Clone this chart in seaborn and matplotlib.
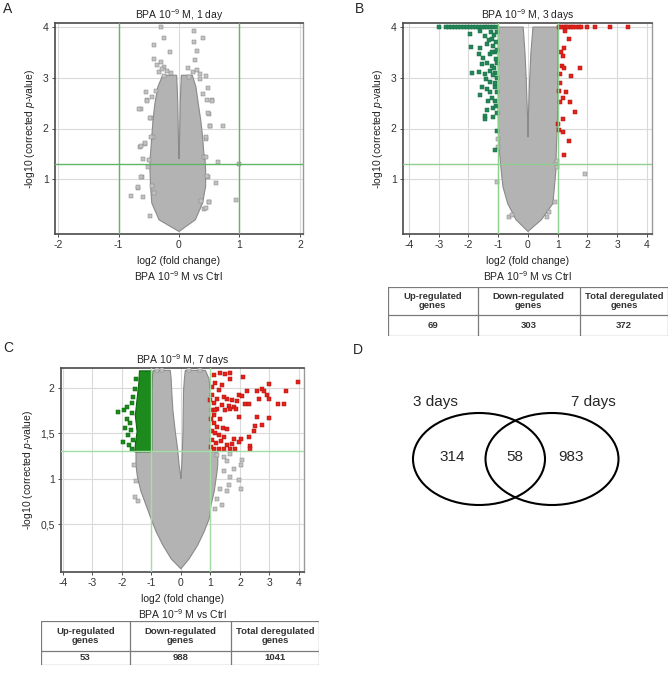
"""
Volcano plots of BPA 10-9 M exposure (1, 3, 7 days), deregulated gene tables and Venn diagram.
"""

import numpy as np
import matplotlib
matplotlib.use("Agg")
import matplotlib.pyplot as plt
from matplotlib.patches import Ellipse
import seaborn as sns

W, H = 670, 674

# ---- data ----
# panel A (1 day): dense cloud envelope + scattered genes
a_cloud_y = [-0.03, 0.2, 0.53, 0.86, 1.18, 1.4, 1.51, 1.84, 2.16, 2.48, 2.82, 3.05]
a_cloud_outer_l = [0, -0.33, -0.45, -0.47, -0.48, -0.48, -0.47, -0.45, -0.43, -0.40, -0.35, -0.27]
a_cloud_inner_l = [0, 0, 0, 0, 0, 0, -0.005, -0.01, -0.015, -0.02, -0.03, -0.04]
a_cloud_inner_r = [0, 0, 0, 0, 0, 0, 0.005, 0.01, 0.015, 0.02, 0.03, 0.04]
a_cloud_outer_r = [0, 0.27, 0.39, 0.44, 0.44, 0.43, 0.41, 0.39, 0.36, 0.32, 0.28, 0.22]
a_grey_x = [-0.30, 0.24, -0.25, 0.40, 0.25, -0.41, 0.29, -0.15, -0.41, -0.29, 0.27, -0.37,
            -0.25, -0.13, -0.24, 0.23, 0.34, 0.44, 0.17, -0.54, -0.53, -0.63, -0.38, 0.48,
            0.54, 0.39, 0.47, -0.46, -0.65, -0.57, -0.43, 0.49, 0.52, 0.73, 0.45, 0.41,
            0.64, 1.0, -0.50, -0.61, -0.67, -0.79, -0.60, 0.48, 0.61, 0.94, 0.49, 0.41,
            -0.45, -0.66, -0.53, -0.48, -0.63, -0.56, -0.47, -0.59, -0.51, -0.63, -0.67,
            -0.42, -0.45, -0.48, 0.55, 0.48, 0.51, 0.44, 0.44, 0.47, 0.36, 0.44, 0.49,
            -0.33, -0.28, 0.30, 0.35, -0.20, 0.15]
a_grey_y = [4.0, 3.92, 3.78, 3.78, 3.71, 3.64, 3.53, 3.50, 3.38, 3.31, 3.36, 3.25,
            3.21, 3.09, 3.03, 3.11, 2.98, 3.03, 3.02, 2.72, 2.56, 2.39, 2.74, 2.79,
            2.56, 2.69, 2.56, 2.20, 1.64, 1.70, 1.83, 2.29, 2.04, 2.05, 1.80, 1.44,
            1.34, 1.30, 1.37, 1.05, 0.83, 0.67, 0.65, 1.05, 0.93, 0.60, 0.55, 0.42,
            2.62, 2.39, 2.54, 2.20, 1.65, 1.71, 1.84, 1.39, 1.25, 1.05, 0.84,
            0.73, 0.86, 0.27, 2.54, 2.31, 2.05, 1.84, 1.44, 1.07, 0.58, 0.43, 0.56,
            3.12, 3.18, 3.15, 3.08, 3.14, 3.19]

# panel B (3 days)
b_cloud_y = [-0.03, 0.2, 0.52, 0.85, 1.18, 1.5, 1.83, 2.16, 2.5, 3.0, 3.5, 4.0]
b_cloud_outer_l = [0, -0.4, -0.68, -0.84, -0.9, -0.95, -0.99, -1.0, -1.0, -1.0, -1.0, -1.0]
b_cloud_inner_l = [0, 0, 0, 0, 0, 0, 0, -0.01, -0.03, -0.06, -0.1, -0.16]
b_cloud_inner_r = [0, 0, 0, 0, 0, 0, 0, 0.01, 0.03, 0.06, 0.1, 0.17]
b_cloud_outer_r = [0, 0.45, 0.84, 0.89, 0.94, 0.95, 0.97, 0.99, 1.0, 1.0, 1.0, 1.0]
b_grey_x = [-1.04, -0.65, 1.93, 0.98, 0.93, -1.02, -0.99, 0.64, 0.92, 0.97, -0.55, 0.72]
b_grey_y = [0.95, 0.26, 1.11, 1.24, 1.32, 1.80, 1.63, 0.26, 0.56, 1.35, 0.3, 0.35]
b_down_x = [-2.98, -2.76, -2.66, -2.56, -2.46, -2.36, -2.26, -2.16, -2.06, -1.96, -1.86,
            -1.76, -1.66, -1.56, -1.46, -1.36, -1.26, -1.16, -1.06,
            -1.94, -1.60, -1.44, -1.91, -1.60, -1.38, -1.21, -1.16, -1.64, -1.52, -1.29,
            -1.10, -1.55, -1.36, -1.21, -1.04, -1.89, -1.64, -1.44, -1.27, -1.12, -1.40,
            -1.27, -1.55, -1.36, -1.10, -1.60, -1.27, -1.04, -1.33, -1.12, -1.36, -1.16,
            -1.46, -1.44, -1.16, -1.04, -1.12,
            -1.05, -1.15, -1.25, -1.08, -1.30, -1.05, -1.20, -1.08, -1.15, -1.05, -1.18,
            -1.10, -1.20, -1.07, -1.05]
b_down_y = [4.0] * 19 + [
            3.87, 3.92, 3.82, 3.61, 3.59, 3.66, 3.76, 3.63, 3.46, 3.39, 3.46,
            3.50, 3.27, 3.30, 3.24, 3.30, 3.10, 3.12, 3.07, 3.14, 3.10, 2.97,
            2.91, 2.81, 2.78, 2.81, 2.67, 2.71, 2.71, 2.54, 2.55, 2.37, 2.41,
            2.25, 2.19, 2.22, 1.96, 1.57,
            3.90, 3.85, 3.90, 3.70, 3.75, 3.55, 3.50, 3.38, 3.20, 3.00, 3.05,
            2.90, 2.60, 2.45, 2.30]
b_up_x = [1.05, 1.12, 1.20, 1.28, 1.36, 1.44, 1.52, 1.60, 1.70, 1.80, 2.0, 2.26, 2.77, 3.38,
          1.26, 1.37, 1.20, 1.11, 1.18, 1.14, 1.20, 1.74, 1.07, 1.46, 1.07, 1.03, 1.28,
          1.17, 1.09, 1.40, 1.59, 1.18, 1.01, 1.06, 1.18, 1.37, 1.20]
b_up_y = [4.0] * 14 + [
          3.92, 3.76, 3.59, 3.50, 3.43, 3.24, 3.20, 3.20, 3.07, 3.03, 2.89, 2.73, 2.71,
          2.61, 2.53, 2.53, 2.33, 2.19, 2.09, 1.98, 1.93, 1.76, 1.47]

# panel C (7 days)
c_cloud_y = [0.01, 0.12, 0.27, 0.42, 0.56, 0.71, 0.86, 1.0, 1.04, 1.15, 1.29, 1.3,
             1.52, 1.75, 1.96, 2.1, 2.19]
c_cloud_outer_l = [0, -0.33, -0.61, -0.84, -1.01, -1.18, -1.35, -1.46, -1.48, -1.52, -1.52,
                   -1.0, -1.0, -1.0, -1.0, -0.97, -0.93]
c_cloud_inner_l = [0, 0, 0, 0, 0, 0, 0, 0, -0.01, -0.06, -0.1, -0.1,
                   -0.19, -0.27, -0.31, -0.33, -0.36]
c_cloud_inner_r = [0, 0, 0, 0, 0, 0, 0, 0, 0.01, 0.03, 0.05, 0.05,
                   0.07, 0.08, 0.09, 0.12, 0.15]
c_cloud_outer_r = [0, 0.28, 0.57, 0.79, 0.96, 1.02, 1.13, 1.19, 1.21, 1.25, 1.25,
                   1.0, 1.0, 1.0, 1.0, 0.95, 0.83]
c_down_block_y = [1.3, 1.41, 1.52, 1.7, 1.88, 2.06, 2.19]
c_down_block_l = [-1.58, -1.55, -1.5, -1.56, -1.5, -1.44, -1.42]
c_grey_x = [1.23, 1.45, 1.68, 1.57, 2.08, 2.02, 1.80, 1.45, 1.68, 1.97, 1.63, 1.34,
            2.02, 1.57, 1.23, 1.40, 1.17, -1.59, -1.53, -1.56, -1.44, 0.26, 0.66, -0.8, -0.65]
c_grey_y = [1.26, 1.24, 1.27, 1.19, 1.21, 1.15, 1.11, 1.08, 1.02, 0.99, 0.93, 0.89,
            0.89, 0.86, 0.78, 0.71, 0.67, 1.15, 0.97, 0.80, 0.75, 2.19, 2.19, 2.19, 2.19]
c_down_x = [-2.13, -1.92, -1.84, -1.81, -1.90, -1.73, -1.78, -1.95, -1.75, -1.67,
            -1.61, -1.53, -1.56, -1.64, -1.67, -1.70, -1.61]
c_down_y = [1.73, 1.76, 1.79, 1.66, 1.56, 1.61, 1.48, 1.40, 1.37, 1.33,
            1.90, 2.10, 1.99, 1.83, 1.72, 1.53, 1.42]
c_up_x = [1.11, 1.34, 1.51, 1.68, 1.68, 2.11, 1.17, 1.40, 1.06, 1.28, 2.76, 2.99, 2.82,
          3.98, 2.59, 1.97, 2.08, 2.25, 2.93, 3.56, 1.06, 1.23, 1.45, 1.57, 1.74, 1.91,
          2.63, 2.99, 1.11, 1.40, 1.63, 1.80, 2.16, 2.31, 3.30, 3.48, 1.06, 1.23, 1.51,
          1.68, 1.88, 1.11, 1.34, 1.97, 2.57, 2.99, 1.23, 1.42, 1.57, 2.51, 2.76, 1.06,
          1.28, 1.45, 1.80, 2.05, 2.31, 2.47, 1.06, 1.20, 1.36, 1.57, 1.74, 1.97, 2.35,
          1.11, 1.28, 1.45, 1.68, 2.35, 1.85, 1.02, 1.11, 1.02, 1.17, 1.00, 1.15]
c_up_y = [2.14, 2.16, 2.15, 2.16, 2.10, 2.12, 2.05, 2.03, 2.01, 1.97, 1.99, 2.04, 1.96,
          2.06, 1.96, 1.92, 1.91, 1.96, 1.92, 1.96, 1.92, 1.88, 1.90, 1.88, 1.86, 1.85,
          1.88, 1.88, 1.83, 1.81, 1.80, 1.79, 1.82, 1.82, 1.82, 1.82, 1.75, 1.77, 1.75,
          1.77, 1.77, 1.70, 1.66, 1.68, 1.68, 1.67, 1.57, 1.56, 1.55, 1.58, 1.59, 1.52,
          1.48, 1.46, 1.44, 1.44, 1.46, 1.52, 1.42, 1.39, 1.41, 1.37, 1.38, 1.40, 1.36,
          1.33, 1.33, 1.33, 1.33, 1.33, 1.33, 1.66, 1.61, 1.35, 1.50, 1.86, 1.75]

table_headers = ["Up-regulated\ngenes", "Down-regulated\ngenes", "Total deregulated\ngenes"]
b_counts = [69, 303, 372]
c_counts = [53, 988, 1041]

venn_labels = ["3 days", "7 days"]
venn_counts = [314, 58, 983]

# ---- style ----
sns.set_style("white")
plt.rcParams["font.family"] = ["Liberation Sans", "DejaVu Sans"]
plt.rcParams["mathtext.fontset"] = "custom"
plt.rcParams["mathtext.rm"] = "Liberation Sans"
plt.rcParams["mathtext.it"] = "Liberation Sans:italic"

GREY_FACE = "#c2c2c2"
GREY_EDGE = "#858585"
CLOUD_FACE = "#b3b3b3"
RED = "#e3221b"


def px_rect(left, top, right, bottom):
    return [left / W, 1 - bottom / H, (right - left) / W, (bottom - top) / H]


def style_axes(ax, xticks, yticks, ylabels, xlim, ylim, thr_color, title):
    ax.set_xlim(*xlim)
    ax.set_ylim(*ylim)
    ax.set_xticks(xticks)
    ax.set_xticklabels([f"{t:g}" for t in xticks])
    ax.set_yticks(yticks)
    ax.set_yticklabels(ylabels)
    ax.grid(True, color="#dadada", lw=0.8, zorder=0)
    ax.set_axisbelow(True)
    ax.tick_params(axis="both", labelsize=7.5, colors="#333333", length=2.5,
                   width=0.6, direction="out", left=True, bottom=True, pad=2)
    for side in ["left", "bottom", "top"]:
        ax.spines[side].set_color("#4a4a4a")
        ax.spines[side].set_linewidth(1.2)
    ax.spines["right"].set_color("#9a9a9a")
    ax.spines["right"].set_linewidth(1.0)
    for v in (-1, 1):
        ax.axvline(v, color=thr_color, lw=1.0, zorder=4)
    ax.axhline(-np.log10(0.05), color=thr_color, lw=1.0, zorder=4)
    ax.set_title(title, fontsize=7.5, color="#222222", pad=3)
    ax.set_xlabel("log2 (fold change)\nBPA 10$^{-9}$ M vs Ctrl", fontsize=7.5,
                  color="#222222", labelpad=4, linespacing=1.3)
    ax.set_ylabel("-log10 (corrected $p$-value)", fontsize=7.5, color="#222222", labelpad=4)


def draw_cloud(ax, y, outer_l, inner_l, inner_r, outer_r):
    # one outline: up the left edge, down into the central notch, back up, down the right edge
    n = len(y)
    k = 0
    while k < n - 1 and inner_l[k + 1] >= inner_r[k + 1]:
        k += 1
    xs = list(outer_l) + list(inner_l[k:][::-1]) + list(inner_r[k:]) + list(outer_r[::-1])
    ys = list(y) + list(y[k:][::-1]) + list(y[k:]) + list(y[::-1])
    ax.fill(xs, ys, facecolor=CLOUD_FACE, edgecolor="#8a8a8a", lw=0.8, zorder=2)


def scatter(ax, x, y, face, edge):
    sns.scatterplot(x=x, y=y, ax=ax, marker="s", s=10, color=face,
                    edgecolor=edge, linewidth=0.35, zorder=3, legend=False)


def draw_table(fig, rect, headers, counts, header_frac):
    tax = fig.add_axes(px_rect(*rect))
    tax.set_xlim(rect[0], rect[2])
    tax.set_ylim(rect[3], rect[1])
    tax.axis("off")
    left, top, right, bottom = rect
    split = top + (bottom - top) * header_frac
    cols = [left, left + (right - left) * 0.32, left + (right - left) * 0.685, right]
    lc = "#7a7a7a"
    tax.plot([left, right, right, left, left], [top, top, bottom, bottom, top], color=lc, lw=0.9)
    tax.plot([left, right], [split, split], color=lc, lw=0.9)
    for cx in cols[1:-1]:
        tax.plot([cx, cx], [top, bottom], color=lc, lw=0.9)
    for i in range(3):
        cx = (cols[i] + cols[i + 1]) / 2
        tax.text(cx, (top + split) / 2, headers[i], ha="center", va="center",
                 fontsize=6.8, fontweight="bold", color="#333333", linespacing=1.05)
        tax.text(cx, (split + bottom) / 2, str(counts[i]), ha="center", va="center",
                 fontsize=6.8, fontweight="bold", color="#333333")


fig = plt.figure(figsize=(W / 100, H / 100), dpi=100)

# panel A
ax_a = fig.add_axes(px_rect(55, 23, 303, 234))
draw_cloud(ax_a, a_cloud_y, a_cloud_outer_l, a_cloud_inner_l, a_cloud_inner_r, a_cloud_outer_r)
scatter(ax_a, a_grey_x, a_grey_y, GREY_FACE, GREY_EDGE)
style_axes(ax_a, [-2, -1, 0, 1, 2], [1, 2, 3, 4], ["1", "2", "3", "4"],
           (-2.05, 2.05), (-0.08, 4.08), "#62b562", "BPA 10$^{-9}$ M, 1 day")

# panel B
ax_b = fig.add_axes(px_rect(403, 23, 652, 234))
draw_cloud(ax_b, b_cloud_y, b_cloud_outer_l, b_cloud_inner_l, b_cloud_inner_r, b_cloud_outer_r)
scatter(ax_b, b_grey_x, b_grey_y, GREY_FACE, GREY_EDGE)
scatter(ax_b, b_down_x, b_down_y, "#23875a", "#1a6b45")
scatter(ax_b, b_up_x, b_up_y, RED, "#b01510")
style_axes(ax_b, list(range(-4, 5)), [1, 2, 3, 4], ["1", "2", "3", "4"],
           (-4.2, 4.17), (-0.08, 4.08), "#8fcf8f", "BPA 10$^{-9}$ M, 3 days")

# panel C
ax_c = fig.add_axes(px_rect(61, 368, 304, 572))
draw_cloud(ax_c, c_cloud_y, c_cloud_outer_l, c_cloud_inner_l, c_cloud_inner_r, c_cloud_outer_r)
ax_c.fill_betweenx(c_down_block_y, c_down_block_l, -1.0, facecolor="#1c8a1c",
                   edgecolor="#0d650d", lw=0.8, zorder=2)
scatter(ax_c, c_grey_x, c_grey_y, GREY_FACE, GREY_EDGE)
scatter(ax_c, c_down_x, c_down_y, "#1c8a1c", "#0d650d")
scatter(ax_c, c_up_x, c_up_y, RED, "#b01510")
style_axes(ax_c, list(range(-4, 5)), [0.5, 1, 1.5, 2], ["0,5", "1", "1,5", "2"],
           (-4.06, 4.17), (-0.025, 2.216), "#a6dca6", "BPA 10$^{-9}$ M, 7 days")

# tables
draw_table(fig, (388, 287, 668, 336), table_headers, b_counts, 0.57)
draw_table(fig, (41, 621, 319, 665), table_headers, c_counts, 0.68)

# panel D: Venn diagram (axes in pixel units)
ax_d = fig.add_axes(px_rect(335, 320, 670, 674))
ax_d.set_xlim(335, 670)
ax_d.set_ylim(674, 320)
ax_d.axis("off")
ax_d.add_patch(Ellipse((479, 459), 132, 92, fill=False, ec="black", lw=1.5))
ax_d.add_patch(Ellipse((552, 459), 133, 92, fill=False, ec="black", lw=1.5))
ax_d.text(435, 402, venn_labels[0], ha="center", va="center", fontsize=11)
ax_d.text(593, 402, venn_labels[1], ha="center", va="center", fontsize=11)
for xpos, val in zip([452, 515, 571], venn_counts):
    ax_d.text(xpos, 457, str(val), ha="center", va="center", fontsize=11)

# panel letters
for lx, ly, letter in [(3, 9, "A"), (355, 9, "B"), (3, 348, "C"), (353, 350, "D")]:
    fig.text(lx / W, 1 - ly / H, letter, fontsize=10, ha="left", va="center")

fig.savefig("out.png", dpi=100)
